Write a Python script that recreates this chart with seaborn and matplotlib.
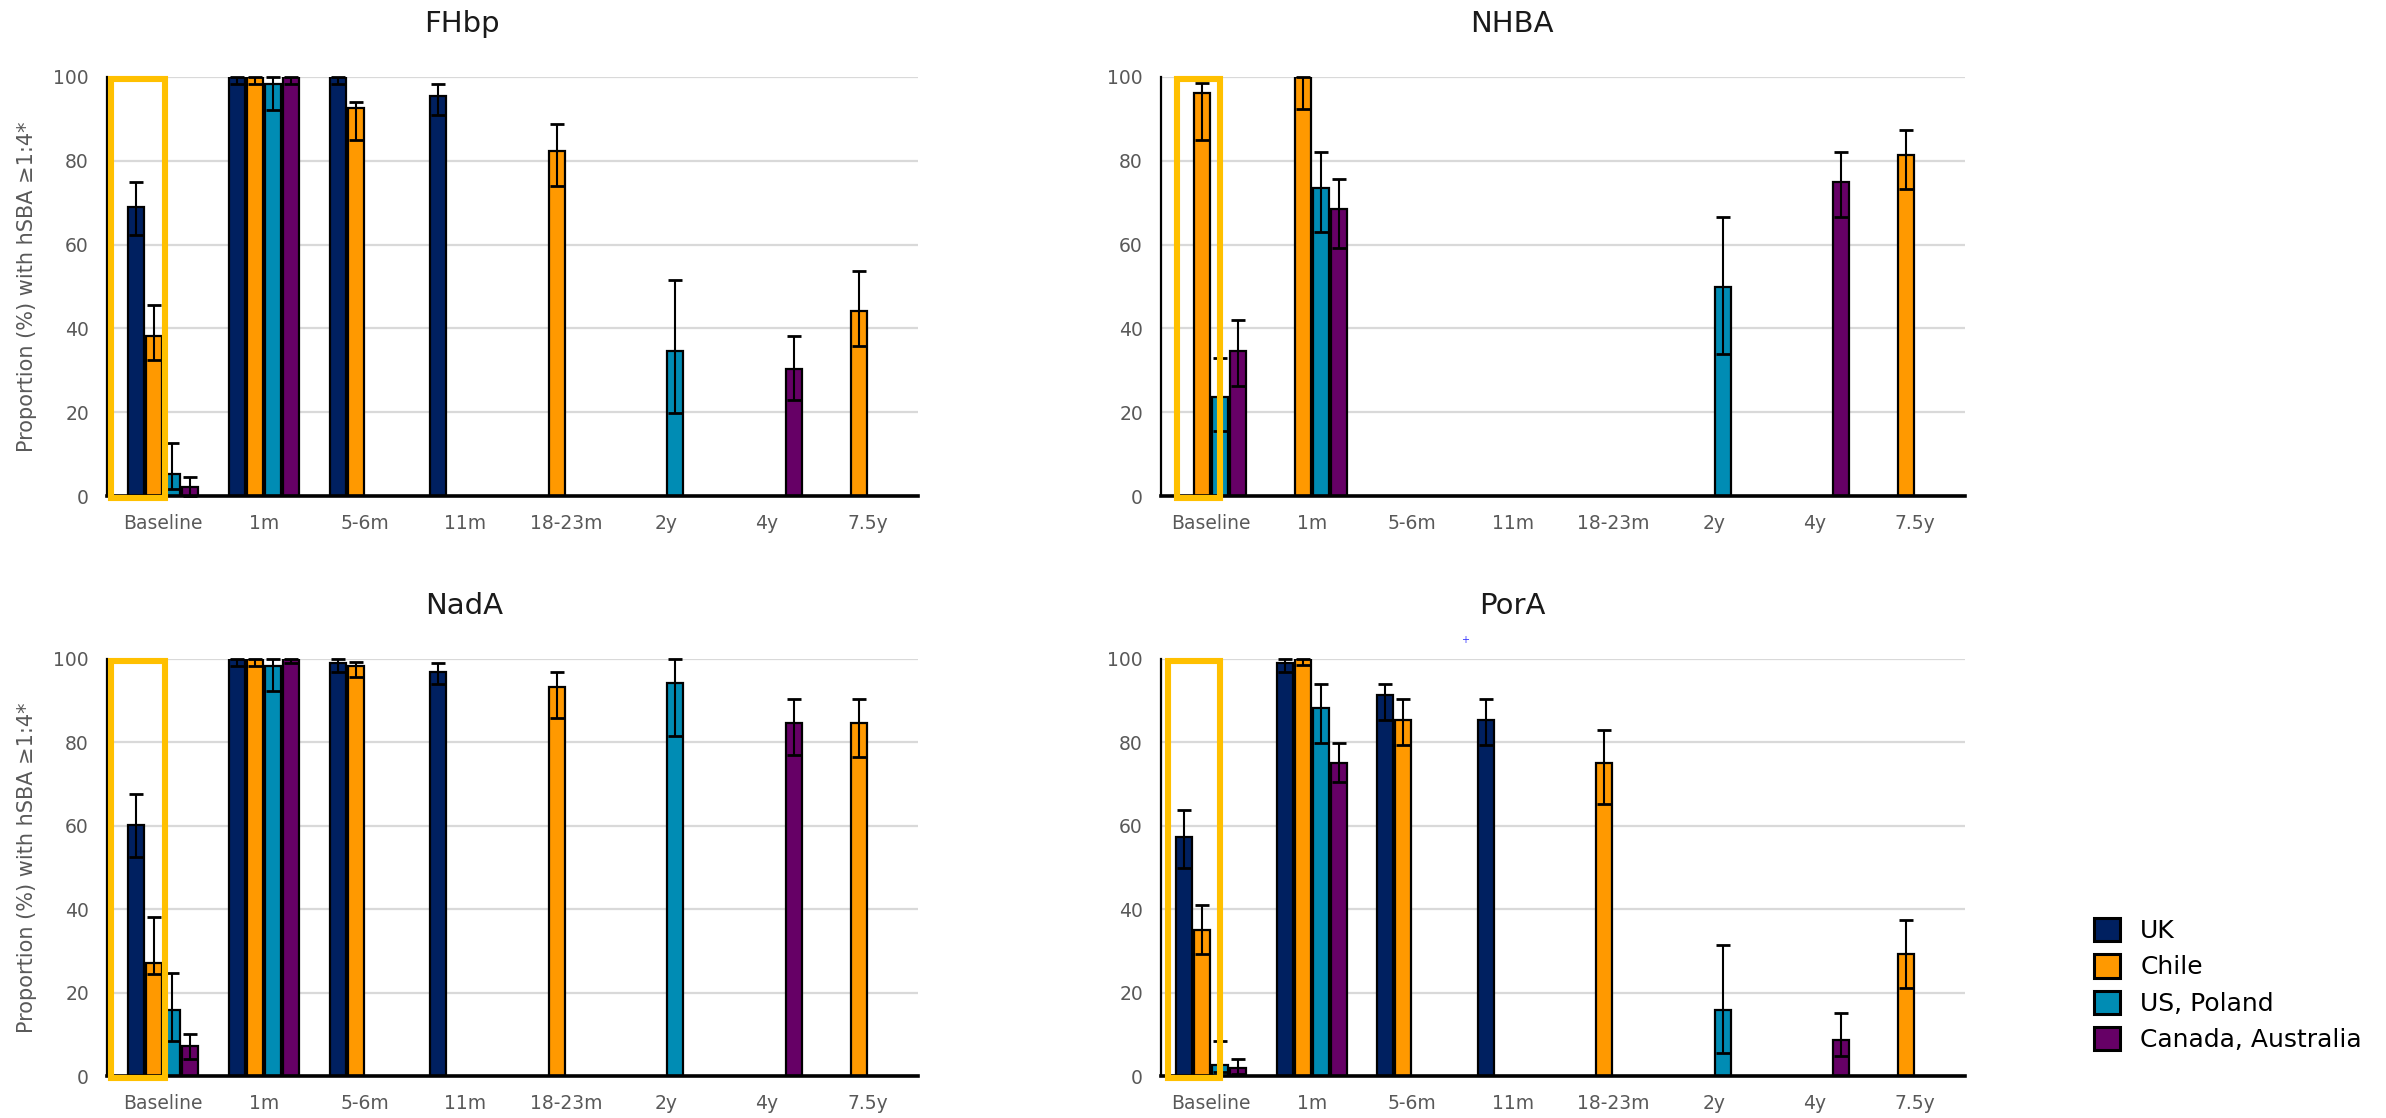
import numpy as np
import pandas as pd
import matplotlib
matplotlib.use("Agg")
import matplotlib.pyplot as plt
import seaborn as sns
from matplotlib.patches import Rectangle, Patch

# ---------------------------------------------------------------------------
# data (proportion % with hSBA >= 1:4, with 95% CI), nan = not measured
# rows: UK, Chile, US/Poland, Canada/Australia
# ---------------------------------------------------------------------------
timepoints = ["Baseline", "1m", "5-6m", "11m", "18-23m", "2y", "4y", "7.5y"]
groups = ["UK", "Chile", "US, Poland", "Canada, Australia"]
nan = np.nan

fhbp_pct = [
    [69.0, 100, 100, 95.5, nan, nan, nan, nan],
    [38.2, 100, 92.6, nan, 82.3, nan, nan, 44.1],
    [5.3, 98.4, nan, nan, nan, 34.7, nan, nan],
    [2.2, 100, nan, nan, nan, nan, 30.2, nan],
]
fhbp_lower = [
    [62.4, 98.4, 98.4, 91.0, nan, nan, nan, nan],
    [32.5, 98.4, 85.0, nan, 74.1, nan, nan, 35.9],
    [1.6, 92.2, nan, nan, nan, 19.7, nan, nan],
    [0.0, 98.4, nan, nan, nan, nan, 22.8, nan],
]
fhbp_upper = [
    [74.9, 100, 100, 98.4, nan, nan, nan, nan],
    [45.6, 100, 94.0, nan, 88.7, nan, nan, 53.6],
    [12.7, 100, nan, nan, nan, 51.5, nan, nan],
    [4.5, 100, nan, nan, nan, nan, 38.2, nan],
]

nhba_pct = [
    [nan, nan, nan, nan, nan, nan, nan, nan],
    [96.1, 100, nan, nan, nan, nan, nan, 81.5],
    [23.6, 73.5, nan, nan, nan, 49.9, nan, nan],
    [34.7, 68.4, nan, nan, nan, nan, 74.9, nan],
]
nhba_lower = [
    [nan, nan, nan, nan, nan, nan, nan, nan],
    [85.0, 92.4, nan, nan, nan, nan, nan, 73.3],
    [15.6, 63.1, nan, nan, nan, 33.9, nan, nan],
    [26.3, 59.3, nan, nan, nan, nan, 66.7, nan],
]
nhba_upper = [
    [nan, nan, nan, nan, nan, nan, nan, nan],
    [98.6, 100, nan, nan, nan, nan, nan, 87.3],
    [33.0, 82.2, nan, nan, nan, 66.7, nan, nan],
    [41.9, 75.6, nan, nan, nan, nan, 82.2, nan],
]

nada_pct = [
    [60.1, 100, 99.1, 97.0, nan, nan, nan, nan],
    [27.0, 100, 98.3, nan, 93.2, nan, nan, 84.6],
    [15.8, 98.3, nan, nan, nan, 94.3, nan, nan],
    [7.3, 100, nan, nan, nan, nan, 84.6, nan],
]
nada_lower = [
    [52.6, 98.3, 96.8, 93.9, nan, nan, nan, nan],
    [24.5, 98.3, 95.6, nan, 85.9, nan, nan, 76.4],
    [8.4, 92.3, nan, nan, nan, 81.5, nan, nan],
    [4.0, 99.0, nan, nan, nan, nan, 77.0, nan],
]
nada_upper = [
    [67.6, 100, 100, 99.1, nan, nan, nan, nan],
    [38.1, 100, 99.2, nan, 97.0, nan, nan, 90.4],
    [24.6, 100, nan, nan, nan, 100, nan, nan],
    [10.0, 100, nan, nan, nan, nan, 90.4, nan],
]

pora_pct = [
    [57.3, 99.1, 91.3, 85.3, nan, nan, nan, nan],
    [35.0, 100, 85.3, nan, 75.1, nan, nan, 29.2],
    [2.7, 88.3, nan, nan, nan, 15.8, nan, nan],
    [1.9, 75.1, nan, nan, nan, nan, 8.7, nan],
]
pora_lower = [
    [49.9, 97.0, 85.3, 79.4, nan, nan, nan, nan],
    [29.2, 98.5, 79.4, nan, 65.3, nan, nan, 21.1],
    [0.9, 79.9, nan, nan, nan, 5.5, nan, nan],
    [0.4, 70.4, nan, nan, nan, nan, 4.9, nan],
]
pora_upper = [
    [63.7, 100, 94.1, 90.4, nan, nan, nan, nan],
    [41.0, 100, 90.4, nan, 82.9, nan, nan, 37.3],
    [8.5, 94.0, nan, nan, nan, 31.3, nan, nan],
    [4.0, 79.9, nan, nan, nan, nan, 15.1, nan],
]

colors = {"UK": "#002060", "Chile": "#FF9900",
          "US, Poland": "#008CB4", "Canada, Australia": "#660066"}

W, H = 2386, 1118
BAR_W = 0.716
fig = plt.figure(figsize=(W / 100, H / 100), dpi=100)


def long_table(pct, lower, upper):
    rows = []
    for g, vals, lo, hi in zip(groups, pct, lower, upper):
        for t, v, l, h in zip(timepoints, vals, lo, hi):
            if not np.isnan(v):
                rows.append({"Timepoint": t, "Group": g, "Pct": v, "Lower": l, "Upper": h})
    return pd.DataFrame(rows)


# title, data, axes box (px), xlim, highlight box x-range, title pos, y label
panels = [
    ("FHbp", fhbp_pct, fhbp_lower, fhbp_upper, (107, 77, 918, 496), (-0.56, 7.5), (-0.525, 0.02), (462, 32), True),
    ("NHBA", nhba_pct, nhba_lower, nhba_upper, (1161, 77, 1965, 496), (-0.5, 7.5), (-0.34, 0.09), (1512, 32), False),
    ("NadA", nada_pct, nada_lower, nada_upper, (107, 659, 918, 1076), (-0.56, 7.5), (-0.525, 0.02), (464, 614), True),
    ("PorA", pora_pct, pora_lower, pora_upper, (1161, 659, 1965, 1076), (-0.5, 7.5), (-0.43, 0.09), (1512, 614), False),
]

for name, pct, lower, upper, box, xlim, hl, tpos, ylab in panels:
    x0, y0, x1, y1 = box
    ax = fig.add_axes([x0 / W, 1 - y1 / H, (x1 - x0) / W, (y1 - y0) / H])
    df = long_table(pct, lower, upper)

    sns.barplot(data=df, x="Timepoint", y="Pct", hue="Group", order=timepoints,
                hue_order=groups, palette=colors, width=BAR_W, gap=0.11,
                edgecolor="black", linewidth=1.6, errorbar=None, legend=False,
                saturation=1, ax=ax)

    # confidence intervals, placed on the bars seaborn drew
    step = BAR_W / len(groups)
    for p in list(ax.patches):
        cx = p.get_x() + p.get_width() / 2
        i = int(round(cx))
        j = int(round((cx - i) / step + 1.5))
        row = df[(df.Timepoint == timepoints[i]) & (df.Group == groups[j])]
        if row.empty:
            continue
        v, lo, hi = row.iloc[0][["Pct", "Lower", "Upper"]]
        ax.errorbar(cx, v, yerr=[[v - lo], [hi - v]], fmt="none", ecolor="black",
                    elinewidth=1.5, capsize=4.7, capthick=2, clip_on=False, zorder=4)

    ax.add_patch(Rectangle((hl[0], -0.4), hl[1] - hl[0], 99.9, fill=False,
                           edgecolor="#FFC000", linewidth=4.4, clip_on=False, zorder=5))

    ax.set_xlim(*xlim)
    ax.set_ylim(0, 100)
    ax.set_yticks([0, 20, 40, 60, 80, 100])
    ax.set_axisbelow(True)
    ax.yaxis.grid(True, color="#d9d9d9", linewidth=1.6)
    ax.xaxis.grid(False)
    ax.set_xlabel("")
    ax.set_ylabel("")
    for s in ["top", "right"]:
        ax.spines[s].set_visible(False)
    ax.spines["bottom"].set_linewidth(2.6)
    ax.spines["bottom"].set_color("black")
    ax.spines["left"].set_linewidth(1.6)
    ax.spines["left"].set_color("black")
    ax.tick_params(axis="both", length=0, labelsize=13.5, labelcolor="#595959")
    ax.tick_params(axis="x", pad=13)
    ax.tick_params(axis="y", pad=13)

    fig.text(tpos[0] / W, 1 - tpos[1] / H, name, ha="center", va="baseline",
             fontsize=21, color="#1a1a1a")
    if ylab:
        fig.text(27 / W, 1 - (y0 + y1) / 2 / H, "Proportion (%) with hSBA \u22651:4*",
                 rotation=90, ha="center", va="center", fontsize=15, color="#595959")

fig.text(1465 / W, 1 - 640 / H, "+", ha="center", va="center", fontsize=7, color="#3333ff")

handles = [Patch(facecolor=colors[g], edgecolor="black", linewidth=2.2, label=g) for g in groups]
fig.legend(handles=handles, loc="upper left", bbox_to_anchor=(2094 / W, 1 - 918 / H),
           frameon=False, fontsize=18, handlelength=1.05, handleheight=1.05,
           handletextpad=0.8, labelspacing=0.45, borderpad=0, borderaxespad=0)

fig.savefig("out.png", dpi=100)
